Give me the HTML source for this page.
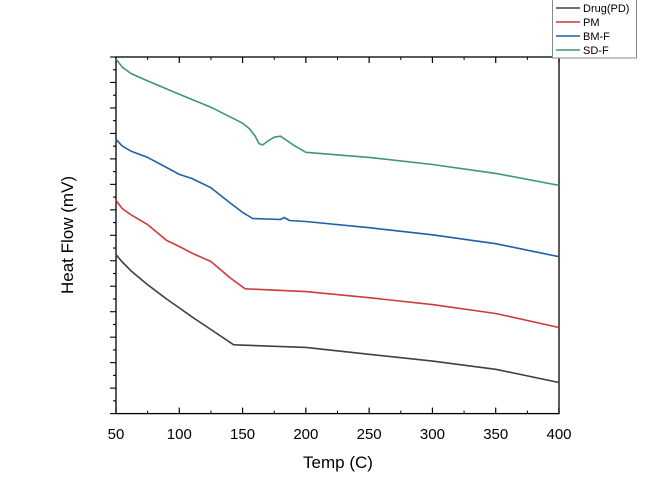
<!DOCTYPE html>
<html><head><meta charset="utf-8"><style>
body{margin:0;background:#fff;}
svg{display:block;font-family:"Liberation Sans",Arial,sans-serif;}
</style></head><body>
<svg id="chart" width="650" height="497" viewBox="0 0 650 497" xmlns="http://www.w3.org/2000/svg">
<g id="axes"></g>
<g id="series"></g>
<text x="338" y="468" font-size="17" text-anchor="middle">Temp (C)</text>
<text transform="translate(73,235) rotate(-90)" font-size="17" text-anchor="middle">Heat Flow (mV)</text>
<g id="legend"></g>
</svg>
<script>
const seriesNames = ["Drug(PD)", "PM", "BM-F", "SD-F"];
const seriesColors = ["#404040", "#d03a3a", "#1f5fa8", "#3a9a6a"];
const xTicks = [50, 100, 150, 200, 250, 300, 350, 400];
const drugX = [50, 55, 62, 75, 90, 100, 110, 125, 143, 170, 200, 250, 300, 350, 400];
const drugY = [6.24, 5.95, 5.6, 5.06, 4.5, 4.15, 3.8, 3.3, 2.7, 2.65, 2.6, 2.33, 2.06, 1.74, 1.22];
const pmX = [50, 55, 62, 75, 90, 100, 110, 125, 140, 152, 200, 250, 300, 350, 400];
const pmY = [8.37, 8.05, 7.8, 7.42, 6.8, 6.56, 6.3, 5.97, 5.34, 4.9, 4.79, 4.55, 4.28, 3.93, 3.38];
const bmX = [50, 55, 62, 75, 90, 100, 110, 125, 140, 150, 158, 180, 183, 187, 200, 250, 300, 350, 400];
const bmY = [10.77, 10.5, 10.3, 10.06, 9.66, 9.39, 9.23, 8.87, 8.28, 7.9, 7.66, 7.62, 7.7, 7.58, 7.54, 7.3, 7.02, 6.67, 6.16];
const sdX = [50, 55, 62, 75, 100, 125, 150, 155, 160, 163, 166, 170, 175, 180, 190, 200, 250, 300, 350, 400];
const sdY = [13.92, 13.6, 13.35, 13.06, 12.54, 12.03, 11.4, 11.2, 10.9, 10.6, 10.55, 10.7, 10.85, 10.89, 10.55, 10.26, 10.06, 9.78, 9.43, 8.96];

const L=116, R=559, T=57, B=413.6, xMin=50, xMax=400, yMin=0, yMax=14;
const sx = v => L + (v - xMin) / (xMax - xMin) * (R - L);
const sy = v => B - (v - yMin) / (yMax - yMin) * (B - T);
const NS = "http://www.w3.org/2000/svg";
function mk(tag, attrs, parent){const e=document.createElementNS(NS,tag);for(const k in attrs)e.setAttribute(k,attrs[k]);parent.appendChild(e);return e;}

const axes = document.getElementById('axes');
const frame = mk('rect',{x:L,y:T,width:R-L,height:B-T,fill:'none',stroke:'#000','stroke-width':1.3},axes);


for(let i=0;i<xTicks.length;i++){
  const v=xTicks[i], x=sx(v);
  const t=mk('line',{x1:x,y1:B,x2:x,y2:B-6,stroke:'#000','stroke-width':1.2},axes);
  
  
  mk('line',{x1:x,y1:T,x2:x,y2:T+6,stroke:'#000','stroke-width':1.2},axes);
  if(i<xTicks.length-1){const xm=sx(v+25);mk('line',{x1:xm,y1:B,x2:xm,y2:B-3,stroke:'#000','stroke-width':1},axes);mk('line',{x1:xm,y1:T,x2:xm,y2:T+3,stroke:'#000','stroke-width':1},axes);}
  const lb=mk('text',{x:x,y:439,'font-size':15,'text-anchor':'middle'},axes);
  lb.textContent=v;
  
  
}
for(let v=0;v<=14;v+=0.5){
  const y=sy(v), major=Number.isInteger(v), len=major?6:3;
  const t=mk('line',{x1:L,y1:y,x2:L-len,y2:y,stroke:'#000','stroke-width':1.1},axes);
  
  
}

const series = document.getElementById('series');
const sets=[[drugX,drugY],[pmX,pmY],[bmX,bmY],[sdX,sdY]];
const keys=['drug-pd','pm','bm-f','sd-f'];
sets.forEach((s,i)=>{
  const d=s[0].map((x,j)=>(j?'L':'M')+sx(x).toFixed(1)+' '+sy(s[1][j]).toFixed(1)).join(' ');
  const p=mk('path',{d:d,fill:'none',stroke:seriesColors[i],'stroke-width':1.6,'stroke-linejoin':'round'},series);
  
  
});

const legend=document.getElementById('legend');
const box=mk('rect',{x:552.5,y:-1,width:84,height:59,fill:'#fff',stroke:'#888','stroke-width':1},legend);


const ly=[8,22,36,50];
seriesNames.forEach((n,i)=>{
  const g=mk('g',{},legend);
  
  
  mk('line',{x1:556,y1:ly[i],x2:580,y2:ly[i],stroke:seriesColors[i],'stroke-width':1.5},g);
  const t=mk('text',{x:583,y:ly[i]+4,'font-size':11},g);
  t.textContent=n;
});
</script>
</body></html>
